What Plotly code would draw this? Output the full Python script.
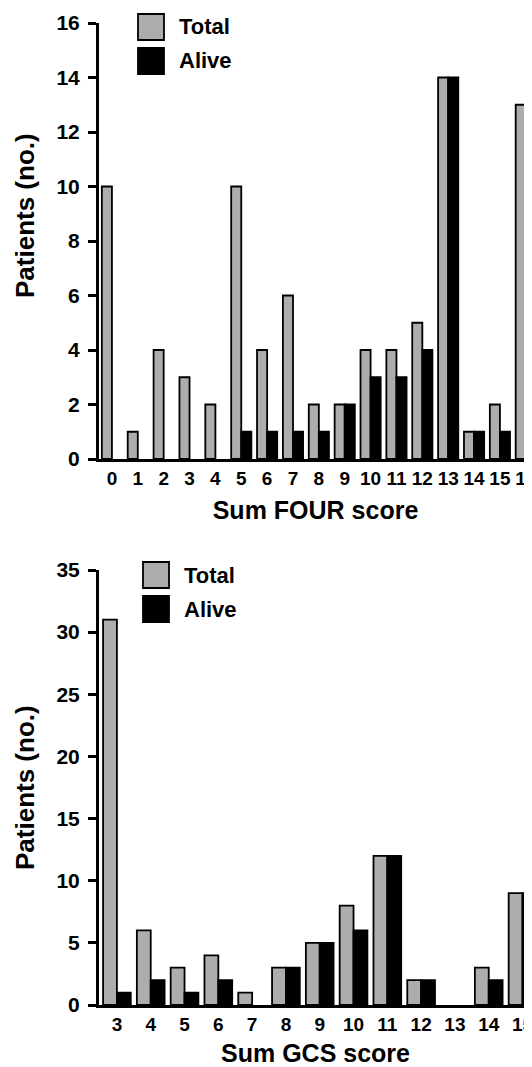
import plotly.graph_objects as go
from plotly.subplots import make_subplots

# ---- data ----
four_scores = list(range(0, 17))
four_total = [10, 1, 4, 3, 2, 10, 4, 6, 2, 2, 4, 4, 5, 14, 1, 2, 13]
four_alive = [0, 0, 0, 0, 0, 1, 1, 1, 1, 2, 3, 3, 4, 14, 1, 1, 12]

gcs_scores = list(range(3, 16))
gcs_total = [31, 6, 3, 4, 1, 3, 5, 8, 12, 2, 0, 3, 9]
gcs_alive = [1, 2, 1, 2, 0, 3, 5, 6, 12, 2, 0, 2, 9]

four_yticks = [0, 2, 4, 6, 8, 10, 12, 14, 16]
gcs_yticks = [0, 5, 10, 15, 20, 25, 30, 35]

series_names = ["Total", "Alive"]
x_titles = ["Sum FOUR score", "Sum GCS score"]
y_title = "Patients (no.)"

# ---- style ----
OFF = 8  # default body margin of the page
W, H = 532 - OFF, 1067 - OFF
ML, MR, MT = 99 - OFF, 0, 23 - OFF
MB = (H + OFF) - 1005
PH = H - MT - MB
PW = W - ML - MR
GRAY = "#adadad"
FONT = "Liberation Sans"
LW = 1.8


def py(pix):
    # reference-window pixel -> paper fraction
    return (H - MB - (pix - OFF)) / PH


def px(pix):
    return (pix - OFF - ML) / PW


fig = make_subplots(rows=2, cols=1, vertical_spacing=0.05)
fig.update_layout(
    yaxis=dict(domain=[py(459), 1.0]),
    yaxis2=dict(domain=[0.0, py(570)]),
)

panels = [
    (four_scores, four_total, four_alive, 0.39, [-0.5, 16.24], [0, 16], four_yticks),
    (gcs_scores, gcs_total, gcs_alive, 0.41, [2.47, 15.28], [0, 35], gcs_yticks),
]

for i, (xs, tot, alv, w, xr, yr, yt) in enumerate(panels, start=1):
    fig.add_trace(go.Bar(x=xs, y=tot, name=series_names[0], width=w, offset=-w,
                         marker=dict(color=GRAY,
                                     line=dict(color="black", width=[LW if v > 0 else 0 for v in tot])),
                         showlegend=False), row=i, col=1)
    fig.add_trace(go.Bar(x=xs, y=alv, name=series_names[1], width=w, offset=0,
                         marker=dict(color="black",
                                     line=dict(color="black", width=[LW if v > 0 else 0 for v in alv])),
                         showlegend=False), row=i, col=1)
    fig.update_xaxes(row=i, col=1, range=xr, tickvals=xs, ticktext=[str(v) for v in xs],
                     showline=True, linecolor="black", linewidth=3, ticks="",
                     showgrid=False, zeroline=False, ticklabelstandoff=0,
                     ticklabeloverflow="allow",
                     tickfont=dict(family=FONT, size=19, color="black", weight="bold"),
                     title=dict(text=x_titles[i - 1], standoff=14,
                                font=dict(family=FONT, size=25, color="black", weight="bold")))
    fig.update_yaxes(row=i, col=1, range=yr, tickvals=yt, showline=True, linecolor="black",
                     linewidth=3, ticks="outside", ticklen=8, tickwidth=3, tickcolor="black",
                     showgrid=False, zeroline=False, ticklabelstandoff=4,
                     tickfont=dict(family=FONT, size=21, color="black", weight="bold"))

# y-axis titles
for yc in [216, 788]:
    fig.add_annotation(text=y_title, xref="paper", yref="paper", x=px(25), y=py(yc),
                       textangle=-90, showarrow=False, xanchor="center", yanchor="middle",
                       font=dict(family=FONT, size=26, color="black", weight="bold"))

# legends (swatches + labels)
legend_specs = [
    (138, 14, 177),
    (143, 562, 182),
]
for (lx, ly, tx) in legend_specs:
    for j, (name, col) in enumerate(zip(series_names, [GRAY, "black"])):
        top = ly + j * 34
        fig.add_shape(type="rect", xref="paper", yref="paper",
                      x0=px(lx), x1=px(lx + 26), y0=py(top + 26), y1=py(top),
                      fillcolor=col, line=dict(color="black", width=LW))
        fig.add_annotation(text=name, xref="paper", yref="paper", x=px(tx), y=py(top + 13),
                           showarrow=False, xanchor="left", yanchor="middle",
                           font=dict(family=FONT, size=22, color="black", weight="bold"))

fig.update_layout(
    width=W, height=H, barmode="overlay",
    margin=dict(l=ML, r=MR, t=MT, b=MB, autoexpand=False),
    paper_bgcolor="white", plot_bgcolor="white",
    font=dict(family=FONT, color="black"),
)

fig.write_html("out.html")
